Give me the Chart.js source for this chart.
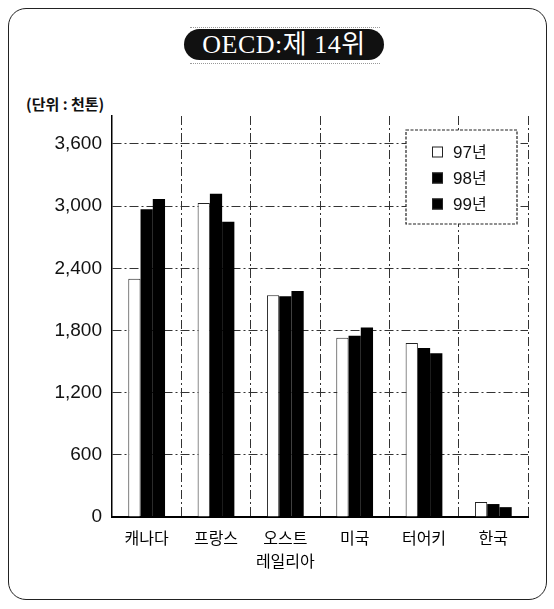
<!DOCTYPE html>
<html>
<head>
<meta charset="utf-8">
<script src="https://cdn.jsdelivr.net/npm/chart.js@4"></script>
<style>
  body { margin: 0; background: #fff; }
  #wrap { position: relative; width: 554px; height: 609px; }
  #frame { position: absolute; left: 8px; top: 8px; width: 539px; height: 592px; border: 1.5px solid #222; border-radius: 18px; box-sizing: border-box; }
  #titleLine { position: absolute; left: 190px; top: 27px; width: 190px; height: 35px; border-top: 1px dotted #999; border-bottom: 1px dotted #999; }
  #title { position: absolute; left: 184px; top: 29px; width: 200px; height: 31px; background: #111; border-radius: 16px; color: #fff; font: 26px "Liberation Serif", "Noto Sans CJK KR", serif; letter-spacing: 0.5px; text-align: center; line-height: 32px; }
  #unit { position: absolute; left: 26px; top: 93px; font: bold 15px "Noto Sans CJK KR", sans-serif; color: #111; }
  canvas { position: absolute; left: 0; top: 0; }
</style>
</head>
<body>
<div id="wrap">
  <div id="frame"></div>
  <div id="titleLine"></div>
  <div id="title">OECD:제 14위</div>
  <div id="unit">(단위 : 천톤)</div>
  <canvas id="myChart" width="554" height="609"></canvas>
</div>
<script>
// 국가별 생산량 (천톤)
const countries = ["캐나다", "프랑스", ["오스트", "레일리아"], "미국", "터어키", "한국"];
const years = ["97년", "98년", "99년"];
const y97 = [2300, 3030, 2140, 1730, 1680, 145];
const y98 = [2970, 3120, 2130, 1750, 1630, 125];
const y99 = [3070, 2850, 2180, 1830, 1580, 95];
const yTicks = [0, 600, 1200, 1800, 2400, 3000, 3600];

const numFont = '"Liberation Sans", Arial, sans-serif';
const korFont = '"Noto Sans CJK KR", sans-serif';

// legend box inside the plot
const boxLegend = {
  id: "boxLegend",
  afterDatasetsDraw(chart) {
    const ctx = chart.ctx;
    const a = chart.chartArea;
    const x = a.right - 122, y = a.top + 14, w = 111, h = 94;
    ctx.save();
    ctx.fillStyle = "#fff";
    ctx.fillRect(x, y, w, h);
    ctx.strokeStyle = "#222";
    ctx.lineWidth = 1.2;
    ctx.setLineDash([3, 1.5]);
    ctx.strokeRect(x, y, w, h);
    ctx.setLineDash([]);
    chart.data.datasets.forEach((ds, i) => {
      const cy = y + 22 + i * 26;
      ctx.fillStyle = ds.backgroundColor;
      ctx.fillRect(x + 26, cy - 5.5, 11, 11);
      ctx.strokeStyle = "#222";
      ctx.lineWidth = 1;
      ctx.strokeRect(x + 26.5, cy - 5, 10, 10);
      ctx.fillStyle = "#111";
      ctx.font = "17px " + numFont;
      ctx.textBaseline = "middle";
      const num = ds.label.replace("년", "");
      ctx.fillText(num, x + 47, cy + 1);
      const wNum = ctx.measureText(num).width;
      ctx.font = "16px " + korFont;
      ctx.fillText("년", x + 47 + wNum, cy);
    });
    ctx.restore();
  }
};

new Chart("myChart", {
  type: "bar",
  data: {
    labels: countries,
    datasets: [
      { label: years[0], data: y97, backgroundColor: "#fff", borderColor: "#222", borderWidth: 1 },
      { label: years[1], data: y98, backgroundColor: "#000" },
      { label: years[2], data: y99, backgroundColor: "#000" },
    ],
  },
  options: {
    responsive: false,
    animation: false,
    layout: { padding: { top: 116, right: 26, left: 0, bottom: 0 } },
    datasets: { bar: { barPercentage: 1, categoryPercentage: 0.53 } },
    plugins: { legend: { display: false }, tooltip: { enabled: false } },
    scales: {
      x: {
        afterFit: (s) => { s.height = 92; },
        grid: {
          offset: true,
          drawTicks: false,
          color: (c) => (c.index >= countries.length ? "rgba(0,0,0,0)" : "#333"),
          lineWidth: 1,
        },
        border: { display: true, color: "#000", width: 2, dash: [9, 3, 2, 3] },
        ticks: {
          padding: 9,
          color: "#000",
          font: { family: korFont, size: 16, lineHeight: 1.45 },
          maxRotation: 0,
          autoSkip: false,
        },
      },
      y: {
        min: 0,
        max: 3870,
        afterFit: (s) => { s.width = 112; },
        afterBuildTicks: (s) => { s.ticks = yTicks.map((v) => ({ value: v })); },
        grid: { drawTicks: false, color: "#333", lineWidth: 1 },
        border: { display: true, color: "#000", width: 1.5, dash: [9, 3, 2, 3] },
        ticks: {
          padding: 10,
          color: "#111",
          font: { family: numFont, size: 19 },
          callback: (v) => v.toLocaleString("en-US"),
        },
      },
    },
  },
  plugins: [boxLegend],
});
</script>
</body>
</html>
